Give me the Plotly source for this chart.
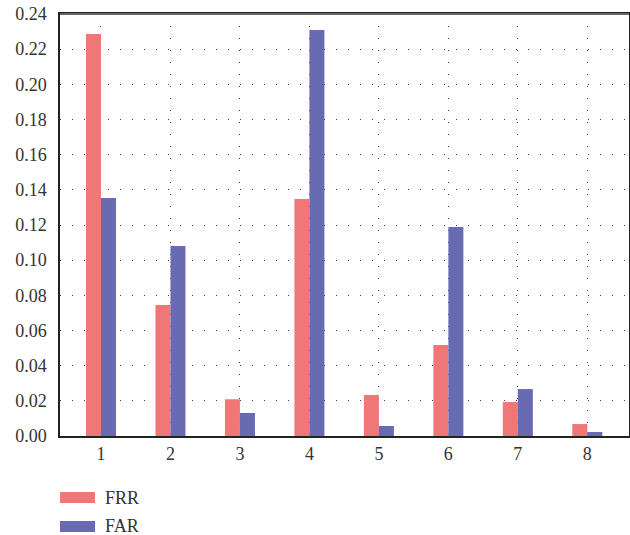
import plotly.graph_objects as go

categories = [1, 2, 3, 4, 5, 6, 7, 8]
frr = [0.2286, 0.0745, 0.0209, 0.1348, 0.0233, 0.0518, 0.0193, 0.0068]
far = [0.1354, 0.1080, 0.0131, 0.2309, 0.0057, 0.1189, 0.0267, 0.0023]
y_ticks = [0.00, 0.02, 0.04, 0.06, 0.08, 0.10, 0.12, 0.14, 0.16, 0.18, 0.20, 0.22, 0.24]
series_names = ["FRR", "FAR"]

FRR_COLOR = "#F07777"
FAR_COLOR = "#686BB2"
FONT = "Liberation Serif, DejaVu Serif, serif"

fig = go.Figure()
fig.add_trace(go.Bar(x=categories, y=frr, name=series_names[0], marker_color=FRR_COLOR,
                     marker_line_width=0))
fig.add_trace(go.Bar(x=categories, y=far, name=series_names[1], marker_color=FAR_COLOR,
                     marker_line_width=0))

# manual legend with wide swatches (paper coordinates)
legend_rows = [(-0.1327, -0.1588, FRR_COLOR, series_names[0]),
               (-0.2014, -0.2275, FAR_COLOR, series_names[1])]
for y0, y1, col, label in legend_rows:
    fig.add_shape(type="rect", xref="paper", yref="paper", x0=0, x1=0.0615,
                  y0=y1, y1=y0, fillcolor=col, line_width=0)
    fig.add_annotation(xref="paper", yref="paper", x=0.0756, y=(y0 + y1) / 2,
                       xanchor="left", yanchor="middle", text=label, showarrow=False,
                       font=dict(family=FONT, size=18, color="#333333"))

# top border in grey (reference draws it lighter than the other sides)
fig.add_shape(type="line", xref="paper", yref="paper", x0=0, x1=1, y0=1, y1=1,
              line=dict(color="#666666", width=2))

fig.update_layout(
    width=630, height=535,
    margin=dict(l=60, r=1, t=14, b=99, autoexpand=False),
    paper_bgcolor="white", plot_bgcolor="white",
    barmode="group", bargap=0.568, bargroupgap=0,
    showlegend=False,
    font=dict(family=FONT, size=18, color="#333333"),
)
fig.update_xaxes(
    range=[0.41, 8.6], tickvals=categories, ticktext=[str(c) for c in categories],
    showgrid=True, gridcolor="#444444", gridwidth=1, griddash="1px,11px",
    showline=True, linecolor="#222222", linewidth=2, mirror=True,
    ticks="", zeroline=False, automargin=False,
)
fig.update_yaxes(
    range=[0, 0.24], tickvals=y_ticks, ticktext=[f"{v:.2f}" for v in y_ticks],
    showgrid=True, gridcolor="#444444", gridwidth=1, griddash="1px,11px",
    showline=True, linecolor="#222222", linewidth=1.5, mirror=True,
    ticks="", ticklabelstandoff=8, zeroline=False, automargin=False,
)

fig.write_html("out.html", config={"displayModeBar": False},
               post_script="document.body.style.margin='0';")
